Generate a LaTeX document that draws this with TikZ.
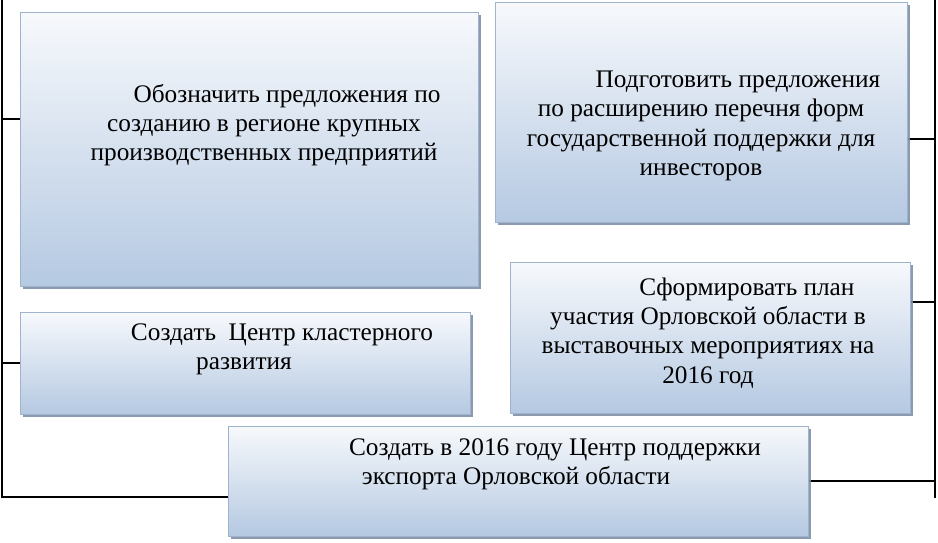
\documentclass[tikz,border=0pt]{standalone}
\usepackage{fontspec}
\setmainfont{Liberation Serif}
\newfontfamily\serfont{Liberation Serif}
\usetikzlibrary{shadows}
\definecolor{boxtop}{HTML}{F7F9FC}
\definecolor{boxbot}{HTML}{B5C9E2}
\definecolor{boxline}{HTML}{9FB3CC}
\definecolor{shadowc}{HTML}{7F8FA6}
\tikzset{
  card/.style={draw=boxline, line width=0.8pt, top color=boxtop, bottom color=boxbot,
    drop shadow={shadow xshift=2.5pt, shadow yshift=-2.5pt, fill=shadowc, opacity=0.9}},
  label/.style={align=center, font=\serfont\fontsize{25.3}{29.3}\selectfont, inner sep=0pt},
  link/.style={line width=1.2pt, black}
}
\begin{document}
\begin{tikzpicture}[x=1pt,y=-1pt]
\useasboundingbox (0,0) rectangle (938,542);
% anchor points
\coordinate (ltop) at (2,0);
\coordinate (lbot) at (2,497);
\coordinate (l1) at (2,119);
\coordinate (l3) at (2,363);
\coordinate (rtop) at (935,0);
\coordinate (rbot) at (935,498);
\coordinate (r2) at (935,139);
\coordinate (r4) at (935,302);
\coordinate (r5) at (935,481);
\coordinate (b1w) at (20,119);
\coordinate (b2e) at (907,139);
\coordinate (b3w) at (20,363);
\coordinate (b4e) at (910,302);
\coordinate (b5w) at (228,497);
\coordinate (b5e) at (808,481);
% connectors (behind boxes)
\draw[link] (ltop) -- (lbot) -- (b5w);
\draw[link] (l1) -- (b1w);
\draw[link] (l3) -- (b3w);
\draw[link] (rtop) -- (rbot);
\draw[link] (b2e) -- (r2);
\draw[link] (b4e) -- (r4);
\draw[link] (b5e) -- (r5);
% boxes
\path[card] (20,12) rectangle (478,286);
\path[card] (495,2) rectangle (907,222);
\path[card] (20,312) rectangle (470,414);
\path[card] (510,262) rectangle (910,413);
\path[card] (228,426) rectangle (808,536);
% texts
\node[label] (t1) at (264,125) {\hspace*{46pt}Обозначить предложения по\\созданию в регионе крупных\\производственных предприятий};
\node[label] (t2) at (701,126) {\hspace*{74pt}Подготовить предложения\\по расширению перечня форм\\государственной поддержки для\\инвесторов};
\node[label] (t4) at (708,333) {\hspace*{78pt}Сформировать план\\участия Орловской области в\\выставочных мероприятиях на\\2016 год};
\node[label] (t3) at (244,349) {\hspace*{76pt}Создать\ \ Центр кластерного\\развития};
\node[label] (t5) at (516,464) {\hspace*{78pt}Создать в 2016 году Центр поддержки\\экспорта Орловской области};
\end{tikzpicture}
\end{document}
